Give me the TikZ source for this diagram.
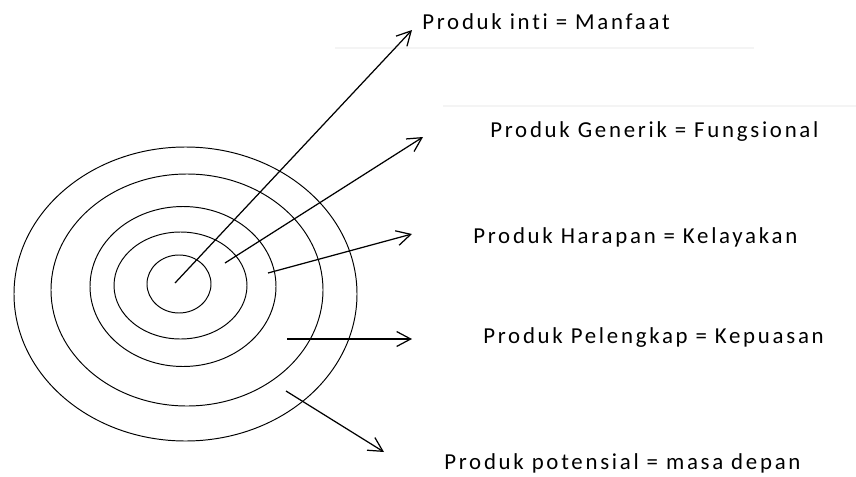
\documentclass[tikz,border=0pt]{standalone}
\usepackage{fontspec}
\newfontfamily\lblfont{Carlito}[LetterSpace=12,Ligatures=NoCommon]
\usepackage{tikz}
\usetikzlibrary{arrows.meta}
\definecolor{rule}{RGB}{244,244,244}

\begin{document}
\begin{tikzpicture}[x=0.02cm,y=-0.02cm,
  lbl/.style={anchor=west,inner sep=0pt,font=\lblfont\fontsize{13}{15}\selectfont},
  ring/.style={draw,line width=0.55pt},
  pointer/.style={-{Straight Barb[length=8pt,width=8.5pt]},line width=0.7pt}]
\useasboundingbox (0,0) rectangle (856,477);

% faint rules behind the labels
\draw[rule,line width=0.6pt] (335,48) -- (754,48);
\draw[rule,line width=0.6pt] (443,106) -- (856,106);

% product levels, outermost first
\draw[ring] (185.5,294) ellipse [x radius=171.5,y radius=147];
\draw[ring] (187,290) ellipse [x radius=136,y radius=116];
\draw[ring] (183,286.5) ellipse [x radius=93,y radius=80];
\draw[ring] (180.5,285.5) ellipse [x radius=66.5,y radius=53.5];
\draw[ring] (179,284) ellipse [x radius=32,y radius=29];

% labels
\node[lbl] (inti) at (422,22) {Produk inti = Manfaat};
\node[lbl] (generik) at (490,132) {Produk Generik = Fungsional};
\node[lbl] (harapan) at (473,237) {Produk Harapan = Kelayakan};
\node[lbl] (pelengkap) at (483,338) {Produk Pelengkap = Kepuasan};
\node[lbl] (potensial) at (444,463) {Produk potensial = masa depan};

% arrow ends
\coordinate (s1) at (175,283); \coordinate (e1) at (412,30);
\coordinate (s2) at (225,263); \coordinate (e2) at (423,137);
\coordinate (s3) at (268,273); \coordinate (e3) at (412,234);
\coordinate (s4) at (287,339); \coordinate (e4) at (412,339);
\coordinate (s5) at (286,391); \coordinate (e5) at (384,452);

\draw[pointer] (s1) -- (e1);
\draw[pointer] (s2) -- (e2);
\draw[pointer] (s3) -- (e3);
\draw[pointer] (s4) -- (e4);
\draw[pointer] (s5) -- (e5);
\end{tikzpicture}
\end{document}
